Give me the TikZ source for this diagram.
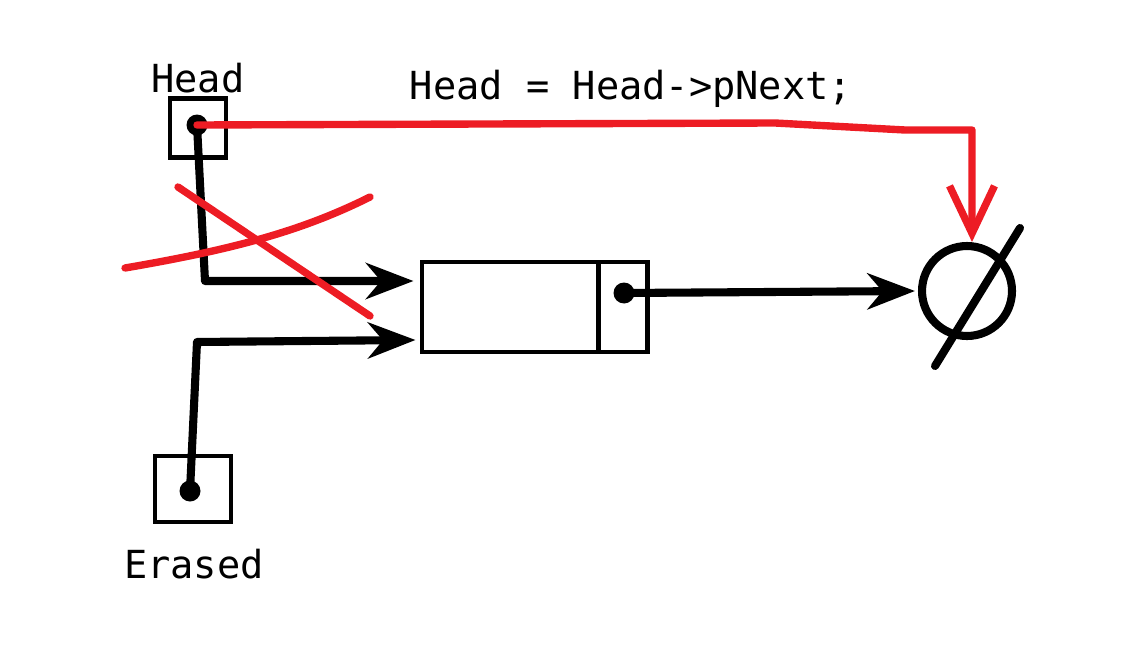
\documentclass[tikz,border=0pt]{standalone}
\usepackage{fontspec}
\newfontfamily\codefont{DejaVu Sans Mono}
\usetikzlibrary{arrows.meta,positioning,calc}

\definecolor{paintred}{RGB}{237,28,36}

\tikzset{
  ptrbox/.style={rectangle, draw, line width=2.3pt, inner sep=0pt},
  ptrdot/.style={circle, fill, inner sep=0pt, minimum size=0.42cm},
  codetext/.style={font=\codefont\fontsize{22}{26}\selectfont, inner sep=0pt},
  link/.style={line width=4.6pt, line cap=round, line join=round,
    -{Stealth[length=0.95cm, width=0.72cm, inset=0.3cm]}},
  redlink/.style={paintred, line width=4.2pt, line cap=round, line join=round,
    -{Straight Barb[length=0.95cm, width=0.9cm]}},
  crossout/.style={paintred, line width=4.2pt, line cap=round},
}

\begin{document}
\begin{tikzpicture}[x=0.02cm, y=-0.02cm]
    \useasboundingbox (0,0) rectangle (1124,662);

    % Pointers
    \node[ptrbox, minimum width=1.12cm, minimum height=1.18cm] (headbox) at (198,128) {};
    \node[ptrdot] (headdot) at (197,125) {};
    \node[codetext] (headlbl) at (198,78) {Head};

    \node[ptrbox, minimum width=1.52cm, minimum height=1.32cm] (erasedbox) at (193,489) {};
    \node[ptrdot] (erasedot) at (190,491) {};
    \node[codetext] (erasedlbl) at (194,564) {Erased};

    % List node
    \node[ptrbox, minimum width=3.54cm, minimum height=1.8cm] (listdata) at (510,307) {};
    \node[ptrbox, minimum width=0.98cm, minimum height=1.8cm, right=-2.3pt of listdata] (listnext) {};
    \node[ptrdot] (nextdot) at (624,293) {};

    % NULL
    \node[circle, draw, line width=4.6pt, minimum size=1.8cm, inner sep=0pt] (nullsym) at (967,291) {};
    \draw[line width=4.6pt, line cap=round] (nullsym.center) ++(53,-63) -- ++(-85,138);

    % Links
    \draw[link] (headdot.center) -- (205,281) -- ([xshift=-0.12cm, yshift=0.52cm]listdata.west);
    \draw[link] (erasedot.center) -- (197,342) -- ([xshift=-0.08cm, yshift=-0.66cm]listdata.west);
    \draw[link] (nextdot.center) -- ([xshift=-0.06cm]nullsym.west);

    % Statement
    \node[codetext, anchor=base] (stmt) at (631,100) {Head = Head->pNext;};
    \draw[redlink] (headdot.center) -- (775,123) -- (905,130) -- (972,130) -- (972,130 |- nullsym.north);

    % Crossed out
    \draw[crossout] (178,187) -- (370,316);
    \draw[crossout] (125,268) .. controls (230,250) and (300,232) .. (370,197);
\end{tikzpicture}
\end{document}
